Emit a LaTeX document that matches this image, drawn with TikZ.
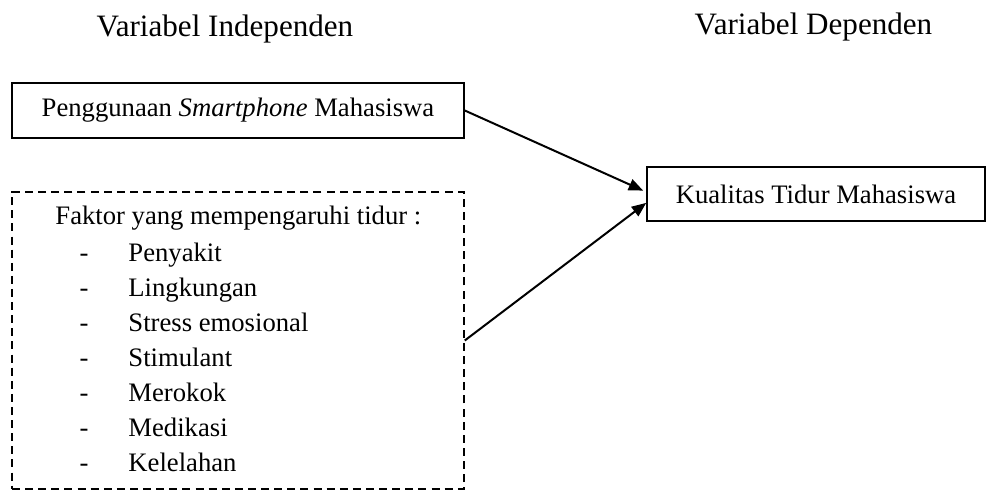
\documentclass[tikz,border=0pt]{standalone}
\usepackage{fontspec}
\setmainfont{Liberation Serif}
\usetikzlibrary{arrows.meta}

\tikzset{%
        every box/.style={
            draw,
            line width=0.7pt,
            inner sep=0pt,
            font=\fontsize{12}{14}\selectfont
        },
        box dashed/.style={
            dash pattern=on 3.6pt off 2.3pt
        },
        every text/.style={
            inner sep=0pt,
            font=\fontsize{12}{14}\selectfont
        },
        every title/.style={
            inner sep=0pt,
            anchor=base,
            font=\fontsize{14}{17}\selectfont
        },
    }

\begin{document}
\begin{tikzpicture}[x=0.45pt, y=-0.45pt, >={Triangle[length=6.5pt, width=5.2pt]}]

        \useasboundingbox (0,0) rectangle (987,491);

        \node [every title] (title-indep) at (225,37) {Variabel Independen};
        \node [every title] (title-dep) at (813.5,35) {Variabel Dependen};

        \node [every box, minimum width=203.4pt, minimum height=24.75pt] (smartphone) at (238,110.5)
            {Penggunaan \textit{Smartphone} Mahasiswa};

        \node [every box, box dashed, minimum width=203.4pt, minimum height=133.65pt] (faktor) at (238,340.5) {};

        \node [every box, minimum width=152.1pt, minimum height=24.3pt] (kualitas) at (816,194)
            {Kualitas Tidur Mahasiswa};

        \node [every text, anchor=base west] (faktor-title) at (55,225) {Faktor yang mempengaruhi tidur :};

        \foreach \f [count=\i from 0] in {Penyakit, Lingkungan, Stress emosional, Stimulant, Merokok, Medikasi, Kelelahan}
        {
            \node [every text, anchor=base] (dash-\i) at (84,262+35*\i) {-};
            \node [every text, anchor=base west] (faktor-\i) at (128,262+35*\i) {\f};
        }

        \draw [->, line width=0.9pt, shorten >=1.5pt] (smartphone.east) -- ([yshift=0.9pt]kualitas.west);
        \draw [->, line width=0.9pt] (faktor.east) -- ([yshift=-4pt]kualitas.west);
    \end{tikzpicture}
\end{document}
